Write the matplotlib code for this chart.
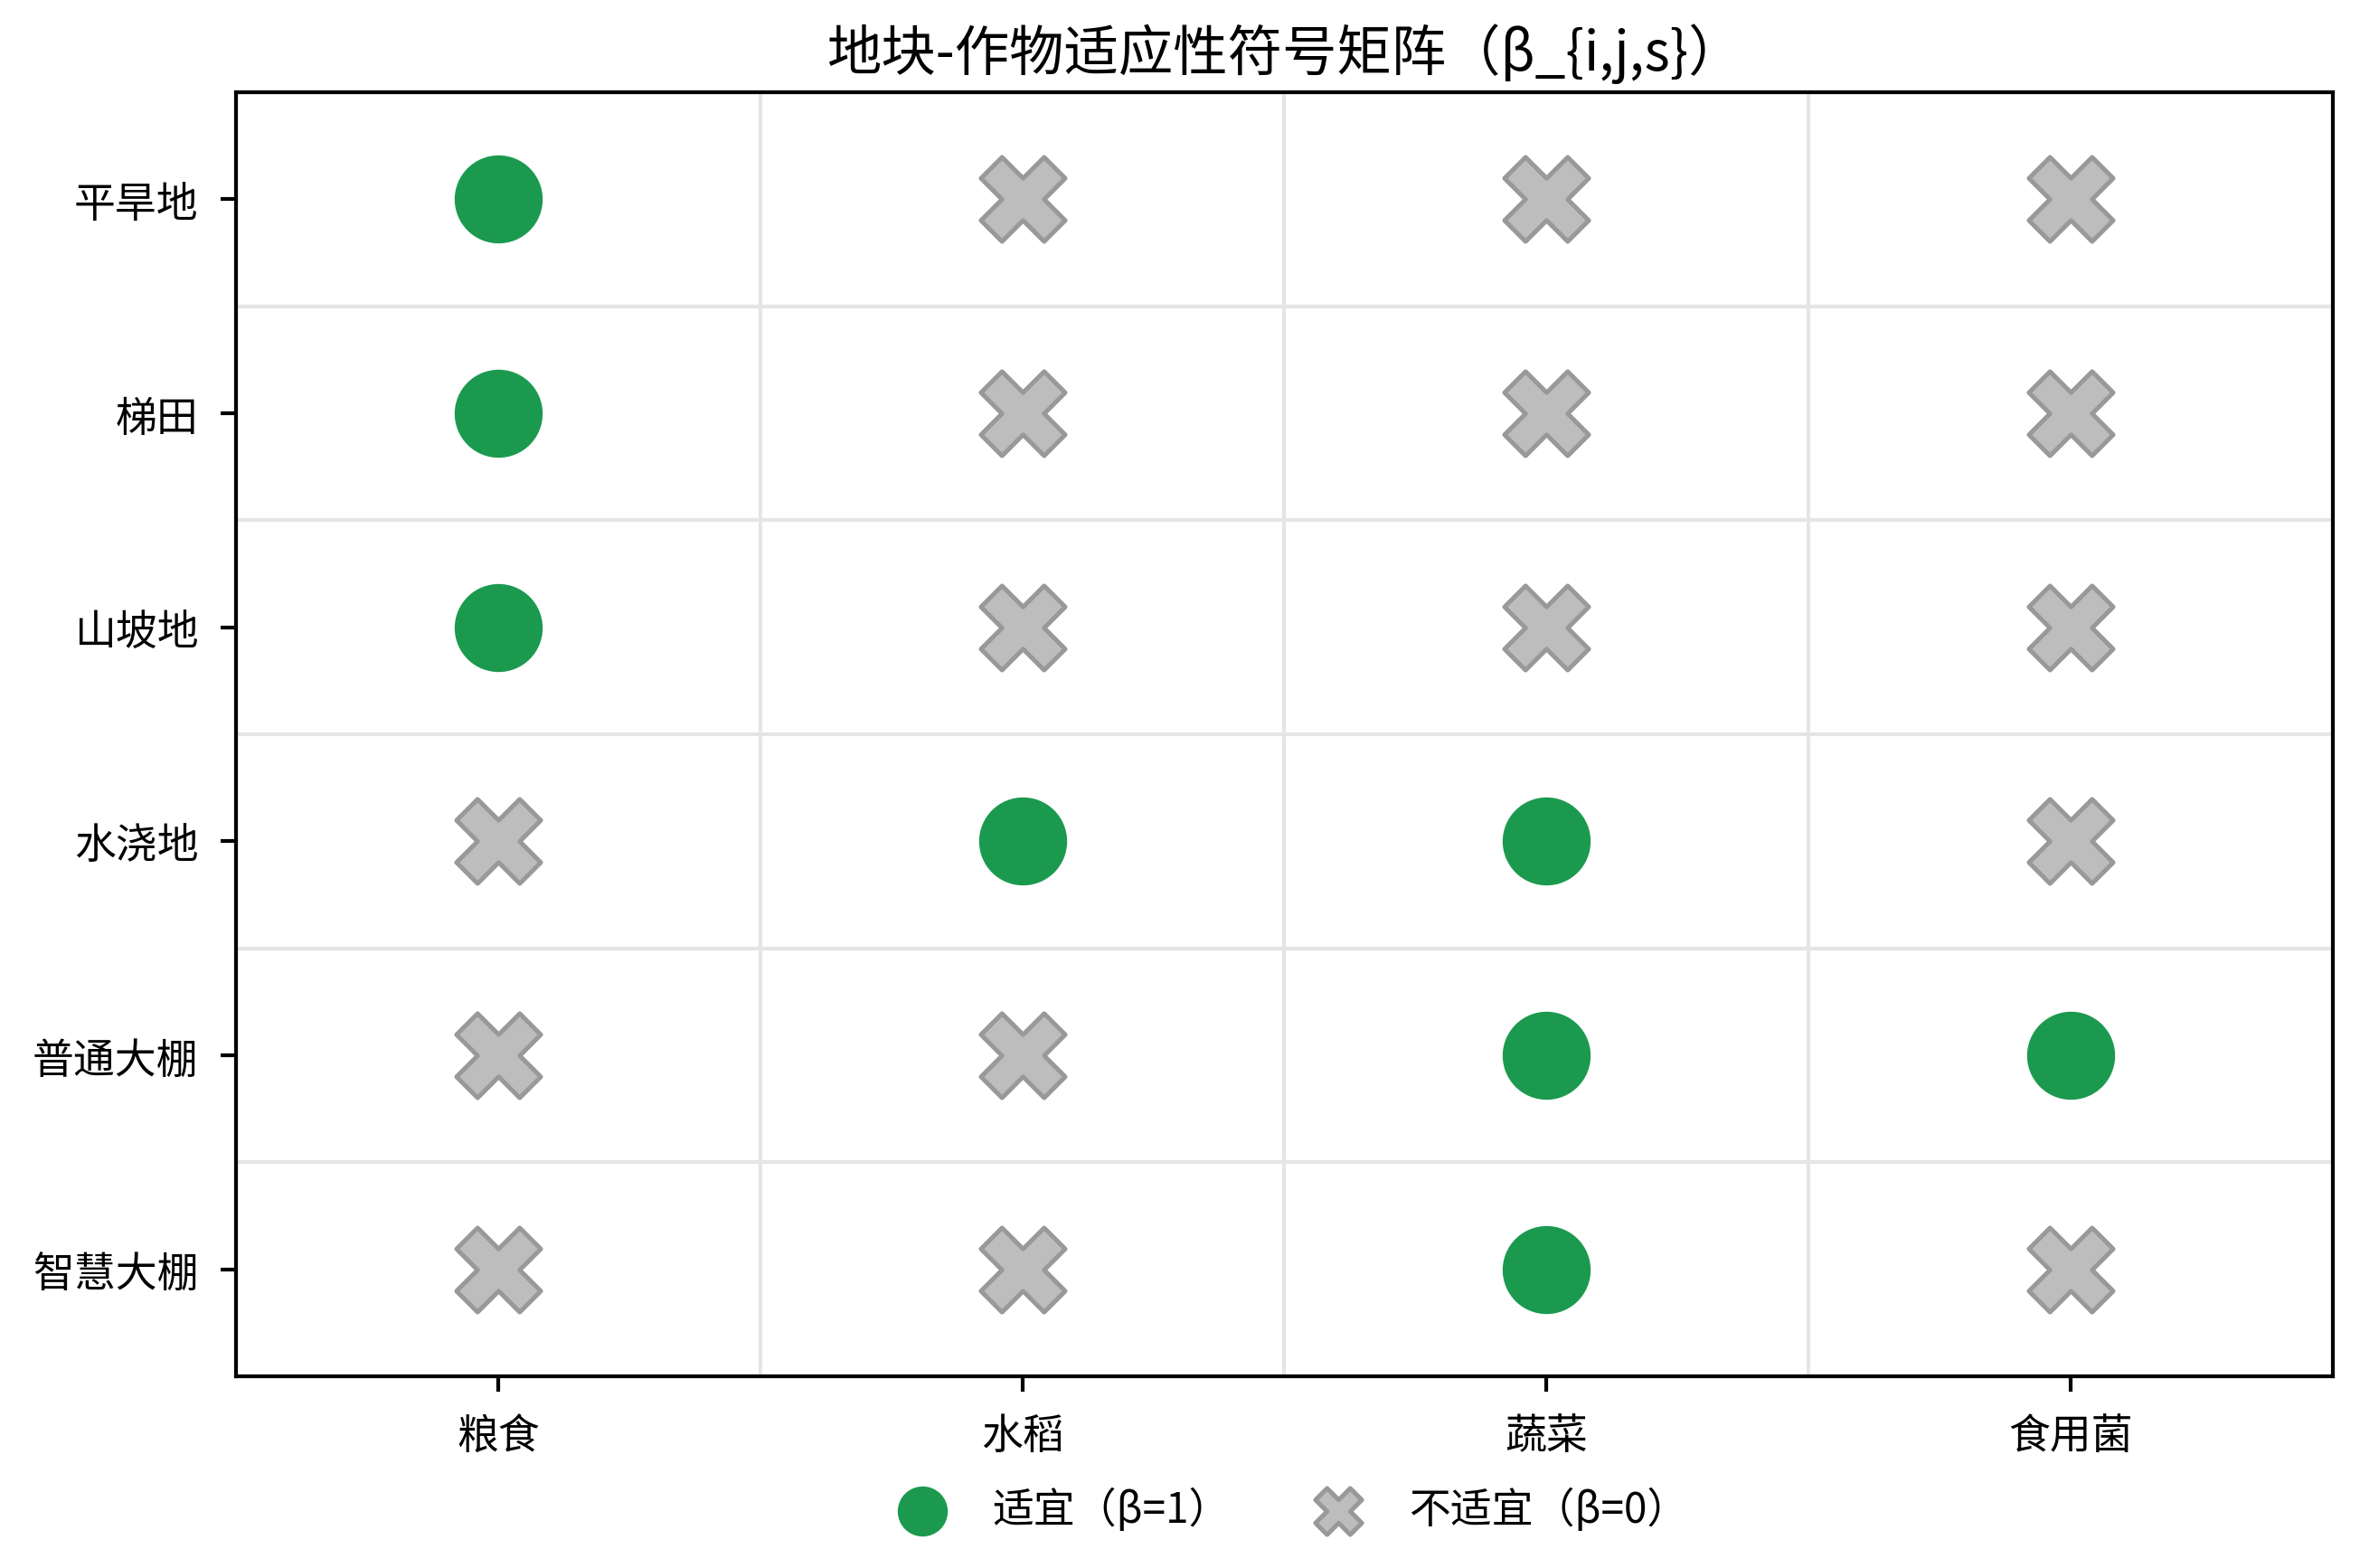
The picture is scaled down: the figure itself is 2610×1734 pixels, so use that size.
import numpy as np
import matplotlib
matplotlib.use('Agg')
import matplotlib.pyplot as plt

plt.rcParams['font.family'] = ['Noto Sans CJK SC', 'DejaVu Sans']
plt.rcParams['axes.unicode_minus'] = False

# land types (rows) and crop groups (columns)
land_types = ['平旱地', '梯田', '山坡地', '水浇地', '普通大棚', '智慧大棚']
crop_groups = ['粮食', '水稻', '蔬菜', '食用菌']

# suitability beta (1 = suitable, 0 = not suitable)
beta = [
    [1, 0, 0, 0],
    [1, 0, 0, 0],
    [1, 0, 0, 0],
    [0, 1, 1, 0],
    [0, 0, 1, 1],
    [0, 0, 1, 0],
]

title = '地块-作物适应性符号矩阵（β_{i,j,s}）'
label_yes = '适宜（β=1）'
label_no = '不适宜（β=0）'

green = '#1b9a4f'
grey_face = '#bdbdbd'
grey_edge = '#999999'

fig = plt.figure(figsize=(8.7, 5.7833), dpi=300)
ax = fig.add_axes([0.1, 0.1222, 0.8885, 0.8184])

mat = np.array(beta)
rows, cols = np.nonzero(mat == 1)
ax.scatter(cols, rows, s=500, c=green, marker='o', zorder=3, label=label_yes)
rows0, cols0 = np.nonzero(mat == 0)
ax.scatter(cols0, rows0, s=500, c=grey_face, marker='X', edgecolors=grey_edge,
           linewidths=1.2, zorder=3, label=label_no)

ax.set_xlim(-0.5, len(crop_groups) - 0.5)
ax.set_ylim(len(land_types) - 0.5, -0.5)

ax.set_xticks(range(len(crop_groups)))
ax.set_xticklabels(crop_groups, fontsize=11)
ax.set_yticks(range(len(land_types)))
ax.set_yticklabels(land_types, fontsize=11)

# light cell grid on minor ticks
ax.set_xticks(np.arange(-0.5, len(crop_groups), 1), minor=True)
ax.set_yticks(np.arange(-0.5, len(land_types), 1), minor=True)
ax.grid(which='minor', color='#e5e5e5', linewidth=1.0)
ax.tick_params(which='minor', length=0)
ax.tick_params(which='major', length=4, width=1, pad=6)
for spine in ax.spines.values():
    spine.set_linewidth(1.0)

ax.set_title(title, fontsize=14.5, pad=6)

ax.legend(loc='upper center', bbox_to_anchor=(0.5, -0.058), ncol=2,
          frameon=False, fontsize=11, markerscale=0.55, columnspacing=1.6,
          handletextpad=0.7)

fig.savefig('out.png', dpi=300)
